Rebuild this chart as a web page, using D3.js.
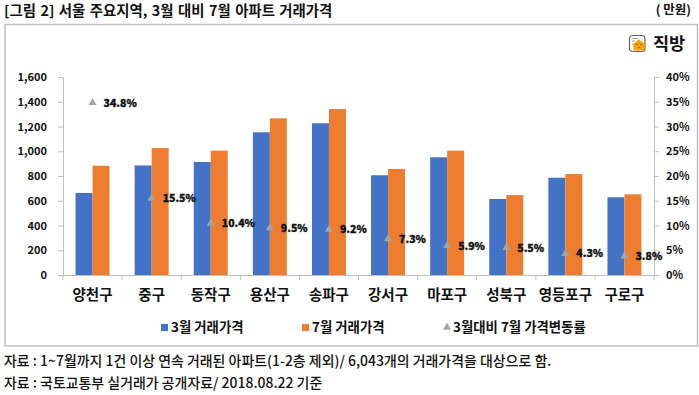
<!DOCTYPE html>
<html>
<head>
<meta charset="utf-8">
<script src="https://cdn.jsdelivr.net/npm/d3@7"></script>
<style>
  html, body { margin: 0; padding: 0; background: #fff; }
  text { font-family: "Noto Sans CJK KR", "Noto Sans", sans-serif; fill: #111; }
</style>
</head>
<body>
<svg id="body" width="699" height="395"></svg>
<script>
let districts = ['양천구', '중구', '동작구', '용산구', '송파구', '강서구', '마포구', '성북구', '영등포구', '구로구'];
let marchPrice = [663, 885, 913, 1153, 1226, 806, 951, 614, 786, 628];
let julyPrice = [883, 1026, 1005, 1266, 1341, 857, 1005, 646, 816, 652];
let changeRate = [34.8, 15.5, 10.4, 9.5, 9.2, 7.3, 5.9, 5.5, 4.3, 3.8];
let priceTicks = [0, 200, 400, 600, 800, 1000, 1200, 1400, 1600];
let rateTicks = [0, 5, 10, 15, 20, 25, 30, 35, 40];
let seriesNames = ['3월 거래가격', '7월 거래가격', '3월대비 7월 가격변동률'];
let notes = ['자료 : 1~7월까지 1건 이상 연속 거래된 아파트(1-2층 제외)/ 6,043개의 거래가격을 대상으로 함.',
             '자료 : 국토교통부 실거래가 공개자료/ 2018.08.22 기준'];

let svg = d3.select('#body');
let blue = '#4472c4';
let orange = '#ed7d31';
let grey = '#a5a5a5';
let axisColor = '#bfbfbf';

let plotLeft = 63, plotRight = 654, plotTop = 77, plotBottom = 275;

let x = d3.scaleBand().domain(districts).range([plotLeft, plotRight]).paddingInner(0.425).paddingOuter(0.2125);
let yPrice = d3.scaleLinear().domain([0, 1600]).range([plotBottom, plotTop]);
let yRate = d3.scaleLinear().domain([0, 40]).range([plotBottom, plotTop]);
let triangle = d3.symbol().type(d3.symbolTriangle).size(28);

// title and unit
svg.append('text').attr('x', 4).attr('y', 16).attr('font-size', 14.4).attr('font-weight', 700)
  .attr('word-spacing', 1.2)
  .text('[그림 2] 서울 주요지역, 3월 대비 7월 아파트 거래가격');
svg.append('text').attr('x', 691).attr('y', 14).attr('text-anchor', 'end')
  .attr('font-size', 12.5).attr('font-weight', 700).text('( 만원)');

// chart frame
svg.append('rect').attr('x', 5).attr('y', 24.5).attr('width', 692.5).attr('height', 321.5)
  .attr('fill', '#fff').attr('stroke', axisColor).attr('stroke-width', 1.5);

// bars
let barWidth = x.bandwidth() / 2;
svg.selectAll('.march').data(districts).enter().append('rect')
  .attr('class', 'march')
  .attr('x', d => x(d))
  .attr('y', (d, i) => yPrice(marchPrice[i]))
  .attr('width', barWidth)
  .attr('height', (d, i) => plotBottom - yPrice(marchPrice[i]))
  .attr('fill', blue);
svg.selectAll('.july').data(districts).enter().append('rect')
  .attr('class', 'july')
  .attr('x', d => x(d) + barWidth)
  .attr('y', (d, i) => yPrice(julyPrice[i]))
  .attr('width', barWidth)
  .attr('height', (d, i) => plotBottom - yPrice(julyPrice[i]))
  .attr('fill', orange);

// axes
let leftAxis = svg.append('g').attr('transform', `translate(${plotLeft},0)`)
  .call(d3.axisLeft(yPrice).tickValues(priceTicks).tickSize(5).tickFormat(d3.format(',')));
let rightAxis = svg.append('g').attr('transform', `translate(${plotRight},0)`)
  .call(d3.axisRight(yRate).tickValues(rateTicks).tickSize(5).tickFormat(d => d + '%'));
let bottomAxis = svg.append('g').attr('transform', `translate(0,${plotBottom})`)
  .call(d3.axisBottom(x).tickSize(0));

for (let axis of [leftAxis, rightAxis, bottomAxis]) {
  axis.selectAll('path, line').attr('stroke', axisColor);
  axis.select('.domain').attr('stroke-width', 1);
  axis.selectAll('text').attr('fill', '#111').attr('font-family', '"Noto Sans CJK KR"');
}
leftAxis.selectAll('text').attr('font-size', 11).attr('font-weight', 700).attr('x', -16);
rightAxis.selectAll('text').attr('font-size', 11).attr('font-weight', 700).attr('x', 12);
bottomAxis.selectAll('text').attr('font-size', 14.5).attr('font-weight', 700).attr('y', 15);

// category ticks sit between the bands
let step = x.step();
bottomAxis.selectAll('.sep').data(d3.range(districts.length + 1)).enter().append('line')
  .attr('x1', d => plotLeft + d * step).attr('x2', d => plotLeft + d * step)
  .attr('y1', 0).attr('y2', 5).attr('stroke', axisColor);

// rate markers and labels
svg.selectAll('.rate').data(districts).enter().append('path')
  .attr('class', 'rate')
  .attr('d', triangle)
  .attr('transform', (d, i) => `translate(${x(d) + barWidth},${yRate(changeRate[i])})`)
  .attr('fill', grey);
svg.selectAll('.rateLabel').data(districts).enter().append('text')
  .attr('class', 'rateLabel')
  .attr('x', d => x(d) + barWidth + 11)
  .attr('y', (d, i) => yRate(changeRate[i]))
  .attr('dy', '0.36em')
  .attr('font-size', 10.5).attr('font-weight', 900)
  .attr('stroke', '#111').attr('stroke-width', 0.35)
  .text((d, i) => changeRate[i] + '%');

// legend
let legendY = 327.5;
svg.append('rect').attr('x', 161).attr('y', legendY - 3.5).attr('width', 7).attr('height', 7).attr('fill', blue);
svg.append('rect').attr('x', 302).attr('y', legendY - 3.5).attr('width', 7).attr('height', 7).attr('fill', orange);
svg.append('path').attr('d', triangle).attr('transform', `translate(447,${legendY})`).attr('fill', grey);
let legendX = [171, 312, 453];
svg.selectAll('.legendText').data(seriesNames).enter().append('text')
  .attr('class', 'legendText')
  .attr('x', (d, i) => legendX[i])
  .attr('y', legendY).attr('dy', '0.36em')
  .attr('font-size', 13.4).attr('font-weight', 700)
  .text(d => d);

// logo
let logo = svg.append('g').attr('transform', 'translate(629,35)');
logo.append('rect').attr('x', 0.5).attr('y', 0.5).attr('width', 15.5).attr('height', 16).attr('rx', 3)
  .attr('fill', '#fff').attr('stroke', '#666').attr('stroke-width', 1.2);
logo.append('path').attr('d', 'M3 3.5 H9 M3 6 H6').attr('stroke', '#888').attr('stroke-width', 0.8);
logo.append('path').attr('d', 'M2.5 10 L10 4.5 L17.5 10 L15.5 10 L15.5 15.5 L4.5 15.5 L4.5 10 Z').attr('fill', '#f5a300');
logo.append('path').attr('d', 'M8 9 V10 M12 9 V10 M10 12 V13').attr('stroke', '#5a3b00').attr('stroke-width', 1);
svg.append('text').attr('x', 653).attr('y', 50).attr('font-size', 17.5).attr('font-weight', 700).attr('fill', '#333').text('직방');

// source notes
svg.selectAll('.note').data(notes).enter().append('text')
  .attr('class', 'note')
  .attr('x', 4)
  .attr('y', (d, i) => 365.5 + i * 22)
  .attr('font-size', 13.95).attr('font-weight', 500)
  .text(d => d);
</script>
</body>
</html>
